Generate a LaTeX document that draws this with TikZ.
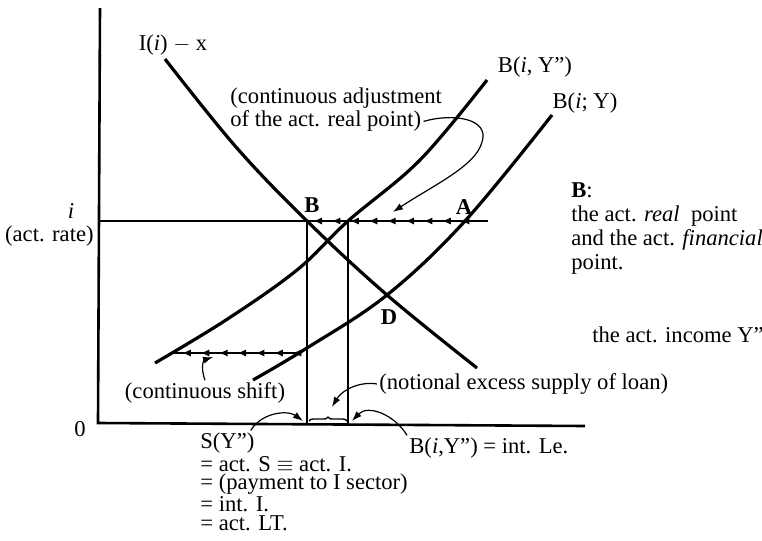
\documentclass[tikz,border=0pt]{standalone}
\usepackage{fontspec}
\setmainfont{Liberation Serif}
\usetikzlibrary{
    arrows.meta,
    positioning,
    decorations.markings,
    decorations.pathreplacing
}

\tikzset{
    curve/.style={line width=1.6pt},
    axis/.style={line width=1.3pt},
    guide/.style={line width=0.7pt},
    pointer/.style={line width=0.6pt, -{Latex[length=5pt,width=3.5pt]}},
    flowline/.style={line width=1pt, postaction={decorate},
        decoration={markings,
            mark=between positions 0.03 and 1 step 9.2pt with {\arrow{Latex[length=4.5pt,width=3.6pt]}}}},
    lbl/.style={inner sep=1pt, font=\fontsize{11.3}{12}\selectfont}
}

\begin{document}
\begin{tikzpicture}[x=0.5pt, y=-0.5pt, every node/.style={lbl}]
\useasboundingbox (0,0) rectangle (762,541);

% Axes
\coordinate (O) at (98,423);
\draw[axis] (100,8) -- (O) -- (585,426);
\node (zero) at (80,429) {0};

% Actual rate
\coordinate (B) at (307,221);
\coordinate (Bpp) at (348,221);
\coordinate (A) at (465,221);
\coordinate (D) at (387,295);
\draw[guide] (O |- B) -- (488,221);
\node[anchor=east] (rate) at (96,236) {(act. rate)};
\node (ilvl) at (71,211) {\textit{i}};

% Curves
\draw[curve] plot[smooth, tension=0.6] coordinates {(165,59) (236,147) (B) (D) (477,368)};
\draw[curve] plot[smooth, tension=0.6] coordinates {(155,363) (226,320) (297,270) (Bpp) (420,160) (487,80)};
\draw[curve] plot[smooth, tension=0.6] coordinates {(253,380) (307,348) (D) (A) (552,115)};
\node (lIX) at (173,45) {I(\textit{i}) $-$ \textsc{x}};
\node (lBpp) at (535,67) {B(\textit{i}, Y'')};
\node (lB) at (585,103) {B(\textit{i}; Y)};

% Points
\node (pB) at (312,205) {\textbf{B}};
\node (pA) at (464,207) {\textbf{A}};
\node (pD) at (389,317) {\textbf{D}};

% Drop lines to the axis
\draw[guide] (B) -- (B |- O);
\draw[guide] (Bpp) -- (Bpp |- O);
\coordinate (brL) at (309,421);
\coordinate (brR) at (347,421);
\draw[guide, decorate, decoration={brace, amplitude=2pt}] (brL) -- (brR);

% Adjustment along i
\draw[flowline] (A) -- (B);
\coordinate (shR) at (296,353);
\coordinate (shL) at (172,353);
\draw[flowline] (shR) -- (shL);

% Notes
\node[anchor=west] (adj1) at (228,98) {(continuous adjustment};
\node[anchor=north west, inner sep=1pt] (adj2) at ([yshift=1pt]adj1.south west) {of the act. real point)};
\coordinate (adjtip) at (393,212);
\draw[pointer] (adj2.east) .. controls (452,113) and (490,118) .. (482,142)
    .. controls (476,166) and (432,186) .. (adjtip);

\node (shift) at (205,393) {(continuous shift)};
\coordinate (shtip) at (213,357);
\draw[pointer] (shift.north) .. controls (200,366) and (204,360) .. (shtip);

\node[anchor=west] (notional) at (377,384) {(notional excess supply of loan)};
\coordinate (ntip) at (332,407);
\draw[pointer] (notional.west) .. controls (360,381) and (342,390) .. (ntip);

\node[anchor=west] (sY) at (198,443) {S(Y'')};
\node[anchor=north west, align=left, font=\fontsize{11.3}{9.4}\selectfont] (sEq) at ([yshift=1pt]sY.south west)
    {= act. S $\equiv$ act. I.\\= (payment to I sector)\\= int. I.\\= act. LT.};
\coordinate (stip) at (303,421);
\draw[pointer] ([xshift=-3pt]sY.north east) .. controls (262,412) and (288,410) .. (stip);

\node[anchor=west] (bLe) at (407,448) {B(\textit{i},Y'') = int. Le.};
\coordinate (btip) at (352,421);
\draw[pointer] (bLe.north west) .. controls (395,415) and (368,404) .. (btip);

% Right-hand remarks
\node[anchor=north west, align=left] (remB) at (569,180)
    {\textbf{B}:\\the act. \textit{real}\ \ point\\and the act. \textit{financial}\\point.};
\node[anchor=west] (income) at (590,335) {the act. income Y''};

\end{tikzpicture}
\end{document}
